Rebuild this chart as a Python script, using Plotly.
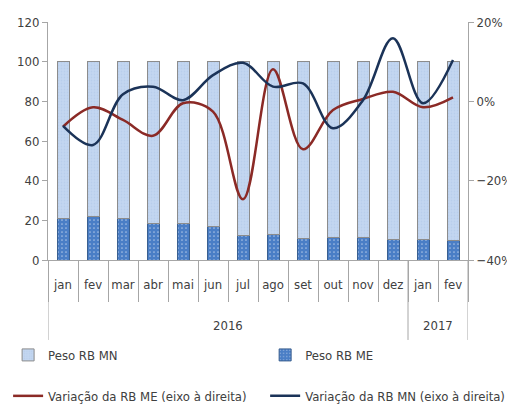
import plotly.graph_objects as go

years = ["2016"] * 12 + ["2017"] * 2
months = ["jan", "fev", "mar", "abr", "mai", "jun", "jul", "ago", "set", "out", "nov", "dez", "jan", "fev"]
peso_me = [20.7, 21.8, 20.7, 18.3, 18.3, 17.1, 12.2, 12.8, 10.9, 11.4, 11.4, 10.4, 10.4, 9.7]
peso_mn = [round(100 - v, 1) for v in peso_me]
var_me = [-6.4, -1.5, -4.7, -8.7, -0.5, -2.6, -24.7, 8.1, -12.1, -2.2, 0.6, 2.4, -1.5, 1.0]
var_mn = [-6.2, -11.0, 1.8, 3.7, 0.3, 6.6, 9.7, 3.7, 4.5, -6.8, 0.3, 15.9, -0.5, 10.4]

idx = list(range(len(months)))
FONT = "DejaVu Sans Condensed, Liberation Sans Narrow, Open Sans, sans-serif"
TXT = "#404040"
AX = "#A6A6A6"
FS = 13

fig = go.Figure()
fig.add_trace(go.Bar(
    x=idx, y=peso_me, name="Peso RB ME", legend="legend2", showlegend=True,
    marker=dict(color="#4A7EC6", line=dict(color="#3A5F8F", width=1),
                pattern=dict(shape=".", fgcolor="#FFFFFF", bgcolor="#4A7EC6", size=4, solidity=0.15)),
    width=0.4,
))
fig.add_trace(go.Bar(
    x=idx, y=peso_mn, name="Peso RB MN", legend="legend", showlegend=True,
    marker=dict(color="#C3D7F1", line=dict(color="#8C8C8C", width=1),
                pattern=dict(shape=".", fgcolor="#AFC6E6", bgcolor="#C3D7F1", size=3, solidity=0.3)),
    width=0.4,
))
fig.add_trace(go.Scatter(
    x=idx, y=var_me, name="Variação da RB ME (eixo à direita)", yaxis="y2", legend="legend3",
    showlegend=True,
    mode="lines", line=dict(color="#8B2A26", width=2.5, shape="spline", smoothing=1.0),
))
fig.add_trace(go.Scatter(
    x=idx, y=var_mn, name="Variação da RB MN (eixo à direita)", yaxis="y2", legend="legend4",
    showlegend=True,
    mode="lines", line=dict(color="#1B3358", width=2.5, shape="spline", smoothing=1.0),
))

# year groups: labels and dividers
groups = []
for i, yv in enumerate(years):
    if not groups or groups[-1][0] != yv:
        groups.append([yv, i, i])
    else:
        groups[-1][2] = i
for yv, a, b in groups:
    fig.add_annotation(x=(a + b) / 2, xref="x", y=-0.275, yref="paper", text=yv,
                       showarrow=False, font=dict(family=FONT, size=FS, color=TXT), yanchor="middle")
bounds = [groups[0][1] - 0.5] + [g[2] + 0.5 for g in groups]
for bx in bounds:
    fig.add_shape(type="line", x0=bx, x1=bx, xref="x", y0=0, y1=-0.336, yref="paper",
                  line=dict(color=AX, width=1))

leg = dict(orientation="h", xanchor="left", yanchor="middle",
           font=dict(family=FONT, size=FS, color=TXT), itemwidth=30)

fig.update_layout(
    width=507, height=397,
    showlegend=True,
    margin=dict(l=40, r=47, t=14, b=145, autoexpand=False),
    paper_bgcolor="white", plot_bgcolor="white",
    barmode="stack",
    font=dict(family=FONT, size=FS, color=TXT),
    xaxis=dict(
        range=[-0.5, len(months) - 0.5], tickvals=idx, ticktext=months,
        showline=True, linecolor=AX, linewidth=1,
        ticks="outside", ticklen=12, tickcolor="rgba(0,0,0,0)", tickangle=0,
        minor=dict(tick0=-0.5, dtick=1, ticks="outside", ticklen=41, tickcolor=AX, showgrid=False),
        tickfont=dict(family=FONT, size=FS, color=TXT), showgrid=False, zeroline=False,
    ),
    yaxis=dict(
        range=[0, 120], dtick=20, showgrid=False, showline=True, linecolor=AX,
        ticks="outside", ticklen=5, tickcolor=AX, zeroline=False,
        tickfont=dict(family=FONT, size=FS, color=TXT),
    ),
    yaxis2=dict(
        range=[-40, 20], dtick=20, overlaying="y", side="right", showgrid=False,
        showline=True, linecolor=AX, ticks="outside", ticklen=5, tickcolor=AX,
        ticksuffix="%", zeroline=False,
        tickfont=dict(family=FONT, size=FS, color=TXT),
    ),
    legend=dict(leg, x=-0.095, y=-0.399),
    legend2=dict(leg, x=0.517, y=-0.399),
    legend3=dict(leg, x=-0.095, y=-0.571),
    legend4=dict(leg, x=0.517, y=-0.571),
)

fig.write_html("out.html")
